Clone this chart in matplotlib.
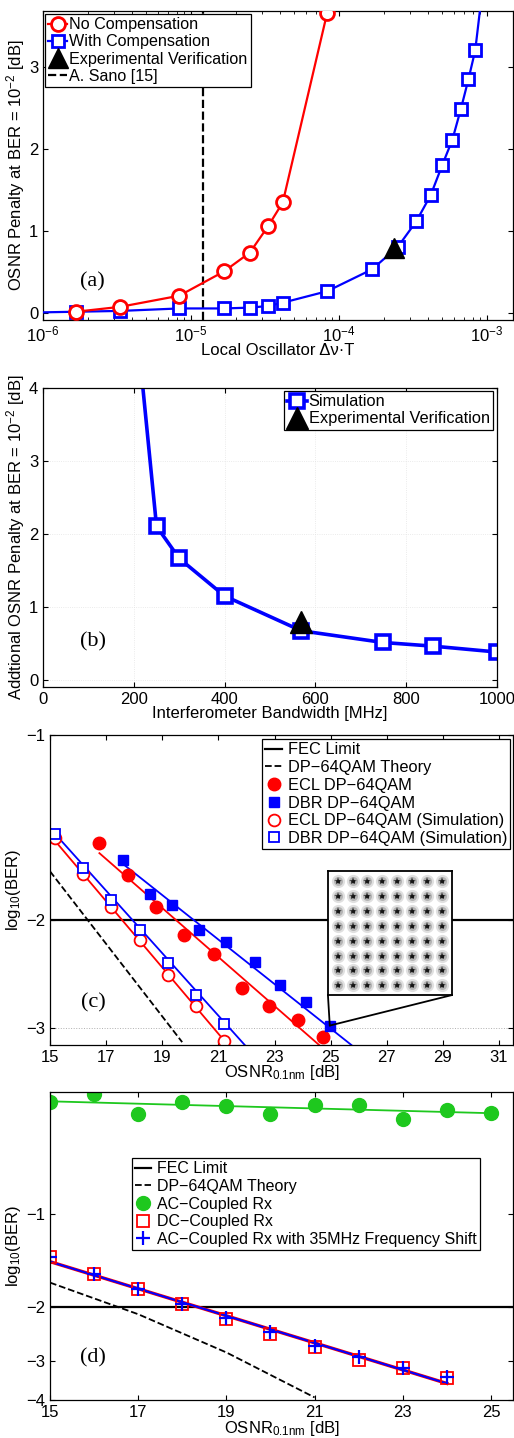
import matplotlib

matplotlib.use("Agg")
import matplotlib.pyplot as plt
from matplotlib.patches import ConnectionPatch
from matplotlib.ticker import FixedLocator, NullLocator

plt.rcParams["font.family"] = ["Liberation Sans", "DejaVu Sans"]
plt.rcParams["font.size"] = 12
plt.rcParams["mathtext.fontset"] = "custom"
plt.rcParams["mathtext.rm"] = "Liberation Sans"
plt.rcParams["mathtext.it"] = "Liberation Sans"
plt.rcParams["axes.linewidth"] = 0.9
plt.rcParams["xtick.direction"] = "in"
plt.rcParams["ytick.direction"] = "in"
plt.rcParams["xtick.top"] = True
plt.rcParams["ytick.right"] = True
plt.rcParams["xtick.labelsize"] = 12
plt.rcParams["ytick.labelsize"] = 12

# ---- panel (a): LO linewidth tolerance ----
a_x_nocomp = [1.67e-6, 3.33e-6, 8.33e-6, 1.67e-5, 2.5e-5, 3.33e-5, 4.17e-5, 8.33e-5]
a_y_nocomp = [0.02, 0.08, 0.215, 0.51, 0.74, 1.065, 1.35, 3.66]
a_x_comp = [8.3e-7, 1.67e-6, 3.33e-6, 8.33e-6, 1.67e-5, 2.5e-5, 3.33e-5, 4.17e-5, 8.33e-5,
            1.67e-4, 2.5e-4, 3.33e-4, 4.17e-4, 5.0e-4, 5.83e-4, 6.67e-4, 7.5e-4, 8.33e-4, 9.33e-4]
a_y_comp = [0.01, 0.02, 0.03, 0.06, 0.06, 0.07, 0.09, 0.13, 0.27,
            0.535, 0.81, 1.12, 1.44, 1.81, 2.11, 2.49, 2.85, 3.2, 3.95]
a_x_exp = [2.34e-4]
a_y_exp = [0.79]
a_sano = 1.2e-5

# ---- panel (b): interferometer bandwidth ----
b_bw = [200, 250, 300, 400, 569, 749, 859, 999]
b_pen = [5.26, 2.11, 1.67, 1.156, 0.68, 0.52, 0.47, 0.39]
b_bw_exp = [569]
b_pen_exp = [0.8]

# ---- panel (c): BER vs OSNR, log10(BER) ----
c_ecl_sim_x = [15.19, 16.19, 17.19, 18.2, 19.2, 20.21, 21.2]
c_ecl_sim_y = [-1.473, -1.684, -1.908, -2.156, -2.457, -2.767, -3.155]
c_dbr_sim_x = [15.19, 16.19, 17.19, 18.2, 19.2, 20.21, 21.2]
c_dbr_sim_y = [-1.451, -1.648, -1.855, -2.082, -2.352, -2.652, -2.953]
c_ecl_x = [16.76, 17.77, 18.76, 19.79, 20.86, 21.85, 22.8, 23.84, 24.73]
c_ecl_y = [-1.497, -1.694, -1.910, -2.118, -2.271, -2.583, -2.767, -2.919, -3.104]
c_dbr_x = [17.59, 18.58, 19.35, 20.31, 21.28, 22.29, 23.21, 24.11, 24.97]
c_dbr_y = [-1.597, -1.816, -1.893, -2.077, -2.177, -2.343, -2.557, -2.726, -2.975]
# fitted lines (end points)
c_fit_ecl_sim = ([15.0, 21.34], [-1.455, -3.2])
c_fit_dbr_sim = ([15.0, 21.94], [-1.419, -3.2])
c_fit_ecl = ([16.76, 24.59], [-1.558, -3.2])
c_fit_dbr = ([17.59, 25.74], [-1.621, -3.2])
c_theory_x = [15.0, 19.71]
c_theory_y = [-1.668, -3.166]
fec_limit = -2.0
qam_levels = [-7, -5, -3, -1, 1, 3, 5, 7]

# ---- panel (d): AC / DC coupled receiver ----
d_x = [15, 16, 17, 18, 19, 20, 21, 22, 23, 24, 25]
d_ac_y = [-0.435, -0.410, -0.476, -0.435, -0.449, -0.476, -0.446, -0.446, -0.493, -0.461, -0.472]
d_dc_x = [15, 16, 17, 18, 19, 20, 21, 22, 23, 24]
d_dc_y = [-1.380, -1.569, -1.754, -1.961, -2.193, -2.451, -2.692, -2.965, -3.155, -3.399]
d_shift_y = [-1.380, -1.561, -1.754, -1.951, -2.176, -2.403, -2.673, -2.914, -3.155, -3.381]
d_fit_ac = ([15.0, 25.0], [-0.433, -0.473])
d_fit_dc = ([15.0, 24.0], [-1.428, -3.535])
d_theory_x = [15, 17, 19, 21]
d_theory_y = [-1.669, -2.112, -2.807, -3.923]

GREEN = "#1ec81e"


def q(vals):
    # axis is log scale in -log10(BER)
    return [-v for v in vals]


def panel_label(ax, txt, x, y):
    ax.text(x, y, txt, transform=ax.transAxes, fontsize=16, ha="center", va="center",
            family=["Liberation Serif", "DejaVu Serif"])


def style_legend(leg):
    frame = leg.get_frame()
    frame.set_edgecolor("black")
    frame.set_linewidth(0.9)
    frame.set_boxstyle("square", pad=0)


def ber_axis(ax, bottom, top, ticks):
    ax.set_yscale("log")
    ax.set_ylim(bottom, top)
    ax.yaxis.set_major_locator(FixedLocator(ticks))
    ax.yaxis.set_minor_locator(NullLocator())
    ax.set_yticklabels([f"\u2212{t}" for t in ticks])
    ax.set_ylabel("log$_{10}$(BER)", labelpad=2)


fig = plt.figure(figsize=(5.14, 14.38), dpi=100)

# (a)
ax = fig.add_axes([0.0837, 0.7775, 0.9144, 0.2149])
ax.set_xscale("log")
ax.plot(a_x_nocomp, a_y_nocomp, "-o", color="red", lw=1.6, ms=10, mfc="white", mew=2,
        label="No Compensation", zorder=4)
ax.plot(a_x_comp, a_y_comp, "-s", color="blue", lw=1.6, ms=8.5, mfc="white", mew=2,
        label="With Compensation", zorder=3)
ax.plot(a_x_exp, a_y_exp, "^", color="black", ms=14, label="Experimental Verification",
        zorder=5)
ax.axvline(a_sano, color="black", ls="--", lw=1.6, label="A. Sano [15]", zorder=2)
ax.set_xlim(1e-6, 1.5e-3)
ax.set_ylim(-0.08, 3.68)
ax.set_yticks([0, 1, 2, 3])
ax.set_xlabel("Local Oscillator \u0394\u03bd\u00b7T", labelpad=-1)
ax.set_ylabel("OSNR Penalty at BER = 10$^{-2}$ [dB]", labelpad=1)
leg = ax.legend(loc="upper left", bbox_to_anchor=(0.004, 0.99), borderaxespad=0,
                handlelength=1.2, handletextpad=0.1, labelspacing=0.14, borderpad=0.2,
                fancybox=False, framealpha=1, fontsize=11.6)
style_legend(leg)
panel_label(ax, "(a)", 0.106, 0.123)

# (b)
ax = fig.add_axes([0.0837, 0.5222, 0.8833, 0.2079])
ax.plot(b_bw, b_pen, "-s", color="blue", lw=2.6, ms=10, mfc="white", mew=2.6,
        label="Simulation")
ax.plot(b_bw_exp, b_pen_exp, "^", color="black", ms=16, label="Experimental Verification")
ax.set_xlim(0, 1000)
ax.set_ylim(-0.09, 4)
ax.set_yticks([0, 1, 2, 3, 4])
ax.set_xticks([0, 200, 400, 600, 800, 1000])
ax.grid(True, color="#e4e4e4", ls=":", lw=0.6)
ax.set_xlabel("Interferometer Bandwidth [MHz]", labelpad=-1)
ax.set_ylabel("Addtional OSNR Penalty at BER = 10$^{-2}$ [dB]", labelpad=1)
leg = ax.legend(loc="upper right", bbox_to_anchor=(0.991, 0.99), borderaxespad=0,
                handlelength=1.2, handletextpad=0.1, labelspacing=0.12, borderpad=0.2,
                fancybox=False, framealpha=1, fontsize=11.8)
style_legend(leg)
panel_label(ax, "(b)", 0.11, 0.15)

# (c)
ax = fig.add_axes([0.0973, 0.2733, 0.9008, 0.2156])
ax.axhline(-fec_limit, color="black", lw=1.6, label="FEC Limit")
ax.plot(c_theory_x, q(c_theory_y), "--", color="black", lw=1.3, label="DP\u221264QAM Theory")
ax.plot(c_fit_ecl_sim[0], q(c_fit_ecl_sim[1]), color="red", lw=1.3)
ax.plot(c_fit_dbr_sim[0], q(c_fit_dbr_sim[1]), color="blue", lw=1.3)
ax.plot(c_fit_ecl[0], q(c_fit_ecl[1]), color="red", lw=1.3)
ax.plot(c_fit_dbr[0], q(c_fit_dbr[1]), color="blue", lw=1.3)
ax.plot(c_ecl_x, q(c_ecl_y), "o", color="red", ms=9, mec="red",
        label="ECL DP\u221264QAM")
ax.plot(c_dbr_x, q(c_dbr_y), "s", color="blue", ms=7.5, mec="blue",
        label="DBR DP\u221264QAM")
ax.plot(c_ecl_sim_x, q(c_ecl_sim_y), "o", color="red", mfc="white", ms=8.5, mew=1.3,
        label="ECL DP\u221264QAM (Simulation)")
ax.plot(c_dbr_sim_x, q(c_dbr_sim_y), "s", color="blue", mfc="white", ms=7.5, mew=1.3,
        label="DBR DP\u221264QAM (Simulation)")
ax.set_xlim(15, 31.5)
ax.set_xticks(range(15, 32, 2))
ber_axis(ax, 3.2, 1.0, [1, 2, 3])
ax.axhline(3, color="#b0b0b0", ls=":", lw=0.7, zorder=0)
ax.set_xlabel("OSNR$_{0.1nm}$ [dB]", labelpad=-1)
leg = ax.legend(loc="upper right", bbox_to_anchor=(0.994, 0.987), borderaxespad=0,
                handlelength=1.0, handletextpad=0.35, labelspacing=0.17, borderpad=0.2,
                fancybox=False, framealpha=1, fontsize=11.8)
style_legend(leg)
panel_label(ax, "(c)", 0.093, 0.135)

# inset constellation
ins = fig.add_axes([0.638, 0.308, 0.241, 0.0862])
for lvl_i in qam_levels:
    for lvl_q in qam_levels:
        ins.plot(lvl_i, lvl_q, "o", color="#e0e0e0", ms=9.5, mew=0)
        ins.plot(lvl_i, lvl_q, "o", color="#b4b4b4", ms=6.5, mew=0)
        ins.plot(lvl_i, lvl_q, "*", color="#3a3a3a", ms=6, mew=0)
        ins.plot(lvl_i, lvl_q, "o", color="#151515", ms=2.5, mew=0)
ins.set_xlim(-8.3, 8.3)
ins.set_ylim(-8.3, 8.3)
ins.set_xticks([])
ins.set_yticks([])
for sp in ins.spines.values():
    sp.set_linewidth(1.3)
for corner in [(0, 0), (1, 0)]:
    con = ConnectionPatch(xyA=corner, coordsA=ins.transAxes,
                          xyB=(c_dbr_x[-1], -c_dbr_y[-1]), coordsB=ax.transData,
                          color="black", lw=1.3)
    fig.add_artist(con)

# (d)
ax = fig.add_axes([0.0973, 0.0264, 0.9008, 0.2142])
ax.axhline(-fec_limit, color="black", lw=1.6, label="FEC Limit")
ax.plot(d_theory_x, q(d_theory_y), "--", color="black", lw=1.3, label="DP\u221264QAM Theory")
ax.plot(d_fit_ac[0], q(d_fit_ac[1]), color=GREEN, lw=1.3)
ax.plot(d_fit_dc[0], q(d_fit_dc[1]), color="red", lw=2.4)
ax.plot(d_fit_dc[0], q(d_fit_dc[1]), color="blue", lw=1.5)
ax.plot(d_x, q(d_ac_y), "o", color=GREEN, ms=10, label="AC\u2212Coupled Rx")
ax.plot(d_dc_x, q(d_dc_y), "s", color="red", mfc="none", ms=8.5, mew=1.3,
        label="DC\u2212Coupled Rx")
ax.plot(d_dc_x, q(d_shift_y), "+", color="blue", ms=10, mew=1.6,
        label="AC\u2212Coupled Rx with 35MHz Frequency Shift")
ax.set_xlim(15, 25.5)
ax.set_xticks(range(15, 26, 2))
ber_axis(ax, 4.0, 0.404, [1, 2, 3, 4])
ax.set_xlabel("OSNR$_{0.1nm}$ [dB]", labelpad=-1)
leg = ax.legend(loc="upper left", bbox_to_anchor=(0.177, 0.786), borderaxespad=0,
                handlelength=1.0, handletextpad=0.35, labelspacing=0.17, borderpad=0.2,
                fancybox=False, framealpha=1, fontsize=11.5)
style_legend(leg)
panel_label(ax, "(d)", 0.093, 0.136)

fig.savefig("out.png", dpi=100)
